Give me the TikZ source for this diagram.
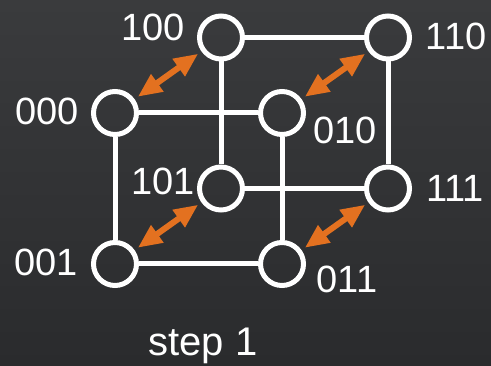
\documentclass[tikz,border=0pt]{standalone}
\usepackage{fontspec}
\setmainfont{Liberation Sans}
\usetikzlibrary{arrows.meta}
\definecolor{bgtop}{RGB}{58,59,61}
\definecolor{bgbot}{RGB}{42,43,45}
\definecolor{swaporange}{RGB}{227,113,32}
\begin{document}
\begin{tikzpicture}[x=1pt,y=-1pt,
  vertex/.style={circle,draw=white,line width=5pt,minimum size=43pt,inner sep=0pt},
  cubeedge/.style={white,line width=5pt},
  swap/.style={swaporange,line width=6pt,
    {Triangle[length=24pt,width=20pt]}-{Triangle[length=24pt,width=20pt]},
    shorten <=4pt,shorten >=4pt},
  lbl/.style={text=white,inner sep=0pt,font=\fontsize{38}{40}\selectfont}]
  % background
  \shade[top color=bgtop,bottom color=bgbot] (0,0) rectangle (491,366);
  \useasboundingbox (0,0) rectangle (491,366);

  % cube vertices
  \node[vertex] (v000) at (115,113) {};
  \node[vertex] (v100) at (221,37.5) {};
  \node[vertex] (v010) at (282,113) {};
  \node[vertex] (v110) at (388,37.5) {};
  \node[vertex] (v001) at (115,264) {};
  \node[vertex] (v101) at (221,188.5) {};
  \node[vertex] (v011) at (282,264) {};
  \node[vertex] (v111) at (388,188.5) {};

  % cube edges
  \draw[cubeedge] (v000) -- (v010);
  \draw[cubeedge] (v000) -- (v001);
  \draw[cubeedge] (v100) -- (v110);
  \draw[cubeedge] (v100) -- (v101);
  \draw[cubeedge] (v110) -- (v111);
  \draw[cubeedge] (v101) -- (v111);
  \draw[cubeedge] (v010) -- (v011);
  \draw[cubeedge] (v001) -- (v011);

  % exchanges along the first dimension
  \draw[swap] (v000) -- (v100);
  \draw[swap] (v010) -- (v110);
  \draw[swap] (v001) -- (v101);
  \draw[swap] (v011) -- (v111);

  % vertex labels
  \node[lbl] (l100) at (153,27) {100};
  \node[lbl] (l000) at (47,111) {000};
  \node[lbl] (l010) at (345,130) {010};
  \node[lbl] (l110) at (456,36) {110};
  \node[lbl] (l101) at (163,181) {101};
  \node[lbl] (l111) at (455,188) {111};
  \node[lbl] (l001) at (46,262) {001};
  \node[lbl] (l011) at (347,279) {011};

  % caption
  \node[lbl,anchor=base,font=\fontsize{40}{42}\selectfont] (caption) at (203,356) {step 1};
\end{tikzpicture}
\end{document}
